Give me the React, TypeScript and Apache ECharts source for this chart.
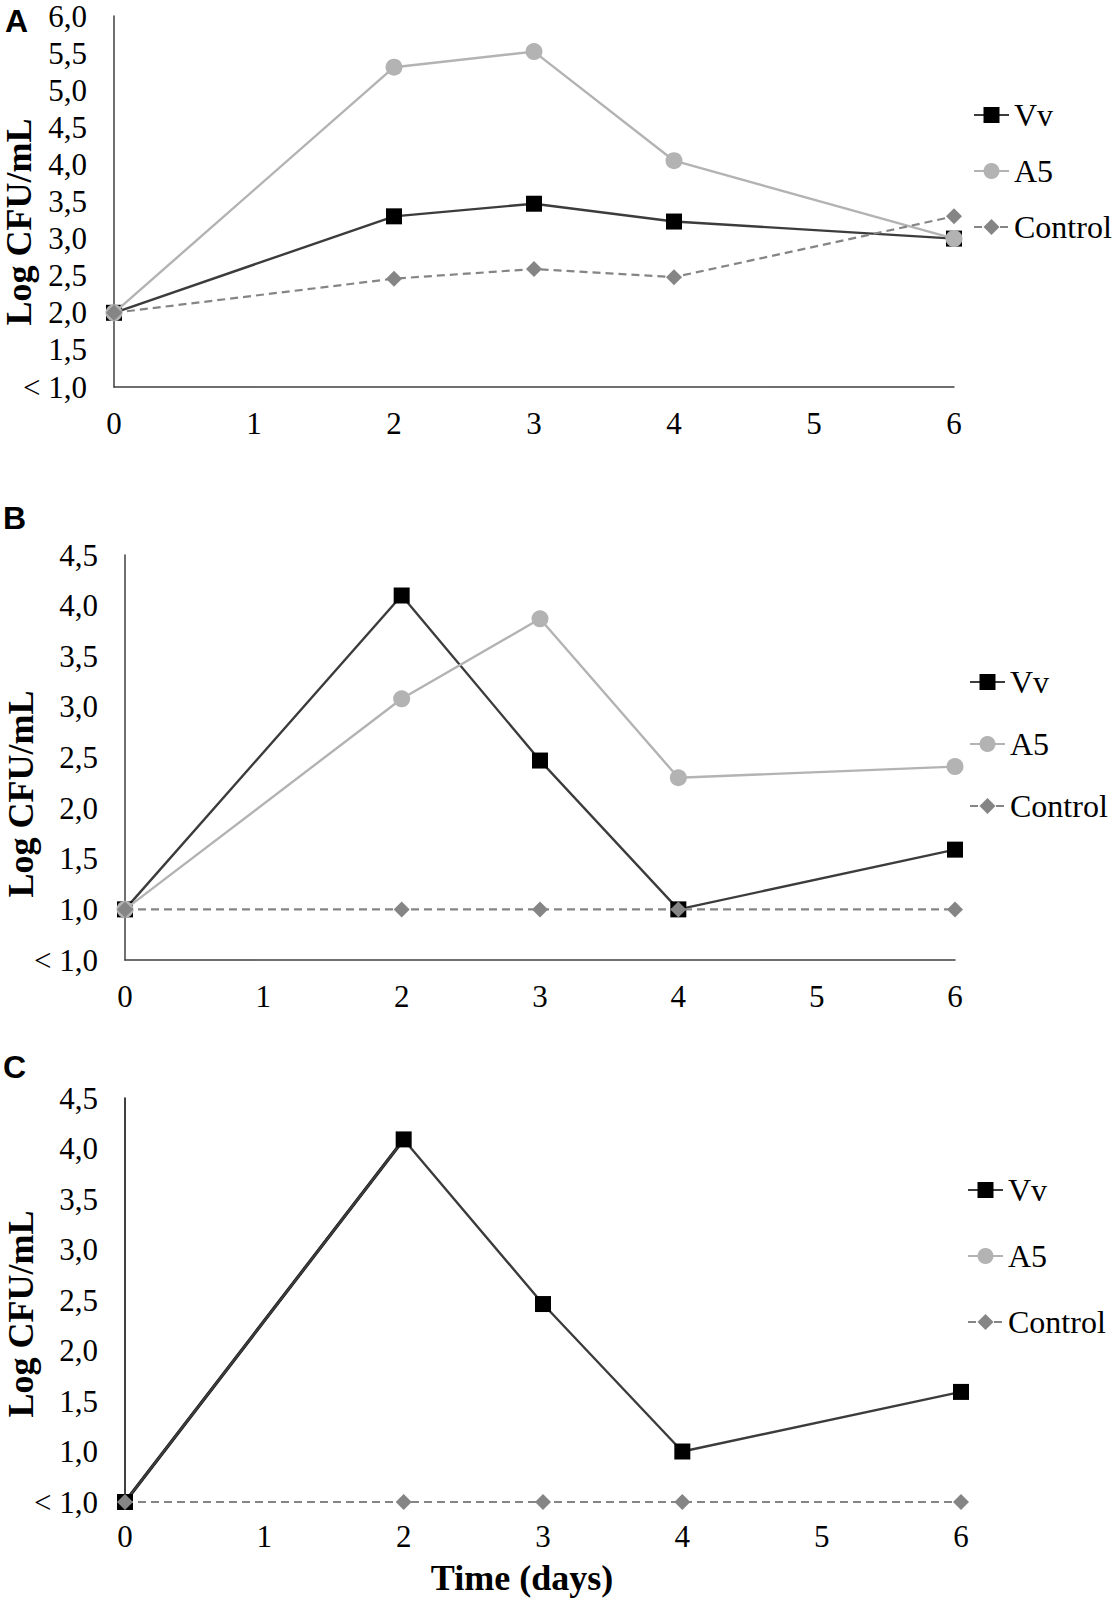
import React, { useEffect, useRef } from "react";
import * as echarts from "echarts";

// ---- data ----
const days = [0, 2, 3, 4, 6];
const seriesNames = ["Vv", "A5", "Control"];
const panelLetters = ["A", "B", "C"];
const yAxisTitle = "Log CFU/mL";
const xAxisTitle = "Time (days)";
const belowLimitLabel = "< 1,0";

const aVv = [2.0, 3.3, 3.47, 3.23, 3.0];
const aA5 = [2.0, 5.31, 5.52, 4.05, 3.0];
const aControl = [2.0, 2.46, 2.59, 2.48, 3.3];

const bVv = [1.0, 4.1, 2.47, 1.0, 1.59];
const bA5 = [1.0, 3.08, 3.87, 2.3, 2.41];
const bControl = [1.0, 1.0, 1.0, 1.0, 1.0];

const cVv = [0.5, 4.09, 2.46, 1.0, 1.59];
const cA5 = [null, null, null, null, null];
const cControl = [0.5, 0.5, 0.5, 0.5, 0.5];

const yMins = [1.0, 0.5, 0.5];
const yMaxs = [6.0, 4.5, 4.5];
const yInterval = 0.5;

// ---- layout / styles ----
const SERIF = "'Liberation Serif', 'Times New Roman', serif";
const SANS = "'Liberation Sans', Arial, sans-serif";

const panels = [
  {
    grid: { left: 114, top: 16, width: 840, height: 371 },
    axisColor: "#404040",
    showXLine: true,
    xMargin: 21,
    legend: { left: 973, top: 99, gap: 24 },
    letter: { x: 5, y: 21 },
    yName: { x: 19, y: 222 },
    data: [aVv, aA5, aControl],
    firstSegDark: false,
  },
  {
    grid: { left: 125, top: 555, width: 830, height: 405 },
    axisColor: "#404040",
    showXLine: true,
    xMargin: 21,
    legend: { left: 969, top: 666, gap: 30 },
    letter: { x: 3, y: 518 },
    yName: { x: 21, y: 794 },
    data: [bVv, bA5, bControl],
    firstSegDark: false,
  },
  {
    grid: { left: 125, top: 1098, width: 836, height: 404 },
    axisColor: "#000000",
    showXLine: false,
    xMargin: 19,
    legend: { left: 967, top: 1174, gap: 34 },
    letter: { x: 3, y: 1067 },
    yName: { x: 21, y: 1314 },
    data: [cVv, cA5, cControl],
    firstSegDark: true,
  },
];

const seriesStyles = [
  { symbol: "rect", symbolSize: 16, color: "#000000", line: "#3c3c3c", width: 2.4, type: "solid" as any },
  { symbol: "circle", symbolSize: 17, color: "#b3b3b3", line: "#b3b3b3", width: 2.4, type: "solid" as any },
  { symbol: "diamond", symbolSize: 16, color: "#858585", line: "#858585", width: 2.2, type: [8, 5] as any },
];

function fmt(v: number, min: number) {
  if (Math.abs(v - min) < 1e-6) return belowLimitLabel;
  return v.toFixed(1).replace(".", ",");
}

export default function App() {
  const ref = useRef<HTMLDivElement>(null);

  useEffect(() => {
    document.body.style.margin = "0";
    if (!ref.current) return;
    const chart = echarts.init(ref.current, undefined, { renderer: "svg" });

    const grids: any[] = [];
    const xAxes: any[] = [];
    const yAxes: any[] = [];
    const series: any[] = [];
    const legends: any[] = [];
    const graphics: any[] = [];

    panels.forEach((p, i) => {
      grids.push({ ...p.grid, containLabel: false });
      xAxes.push({
        type: "value",
        gridIndex: i,
        min: 0,
        max: 6,
        interval: 1,
        axisLine: { show: p.showXLine, onZero: false, lineStyle: { color: p.axisColor, width: 1.5 } },
        axisTick: { show: false },
        splitLine: { show: false },
        axisLabel: {
          margin: p.xMargin,
          fontFamily: SERIF,
          fontSize: 31,
          color: "#000",
          showMinLabel: true,
          showMaxLabel: true,
        },
      });
      const yMin = yMins[i];
      yAxes.push({
        type: "value",
        gridIndex: i,
        min: yMin,
        max: yMaxs[i],
        interval: yInterval,
        axisLine: { show: true, onZero: false, lineStyle: { color: p.axisColor, width: 1.5 } },
        axisTick: { show: false },
        splitLine: { show: false },
        axisLabel: {
          margin: 27,
          fontFamily: SERIF,
          fontSize: 31,
          color: "#000",
          showMinLabel: true,
          showMaxLabel: true,
          formatter: (v: number) => fmt(v, yMin),
        },
      });
      p.data.forEach((vals, k) => {
        const st = seriesStyles[k];
        series.push({
          type: "line",
          name: seriesNames[k],
          xAxisIndex: i,
          yAxisIndex: i,
          data: days.map((d, j) => [d, vals[j]]),
          symbol: st.symbol,
          symbolSize: st.symbolSize,
          showAllSymbol: true,
          connectNulls: false,
          itemStyle: { color: st.color },
          lineStyle: { color: st.line, width: st.width, type: st.type },
          z: 3 + k,
          silent: true,
        });
      });
      if (p.firstSegDark) {
        const vv = p.data[0];
        series.push({
          type: "line",
          name: "Vv first segment",
          xAxisIndex: i,
          yAxisIndex: i,
          data: days.slice(0, 2).map((d, j) => [d, vv[j]]),
          symbol: "none",
          lineStyle: { color: "#000000", width: 3.2 },
          z: 2,
          silent: true,
        });
      }
      legends.push({
        orient: "vertical",
        left: p.legend.left,
        top: p.legend.top,
        padding: 0,
        itemWidth: 35,
        itemHeight: 20,
        itemGap: p.legend.gap,
        selectedMode: false,
        data: seriesNames,
        textStyle: { fontFamily: SERIF, fontSize: 32, color: "#000" },
      });
      graphics.push({
        type: "text",
        x: p.letter.x,
        y: p.letter.y,
        style: {
          text: panelLetters[i],
          font: `bold 32px ${SANS}`,
          fill: "#000",
          textAlign: "left",
          textVerticalAlign: "middle",
        },
      });
      graphics.push({
        type: "text",
        x: p.yName.x,
        y: p.yName.y,
        rotation: Math.PI / 2,
        style: {
          text: yAxisTitle,
          font: `bold 36px ${SERIF}`,
          fill: "#000",
          textAlign: "center",
          textVerticalAlign: "middle",
        },
      });
    });

    graphics.push({
      type: "text",
      x: 522,
      y: 1578,
      style: {
        text: xAxisTitle,
        font: `bold 36px ${SERIF}`,
        fill: "#000",
        textAlign: "center",
        textVerticalAlign: "middle",
      },
    });

    chart.setOption({
      animation: false,
      backgroundColor: "#ffffff",
      grid: grids,
      xAxis: xAxes,
      yAxis: yAxes,
      series,
      legend: legends,
      graphic: graphics,
    });

    return () => chart.dispose();
  }, []);

  return <div ref={ref} style={{ width: 1114, height: 1600 }} />;
}
